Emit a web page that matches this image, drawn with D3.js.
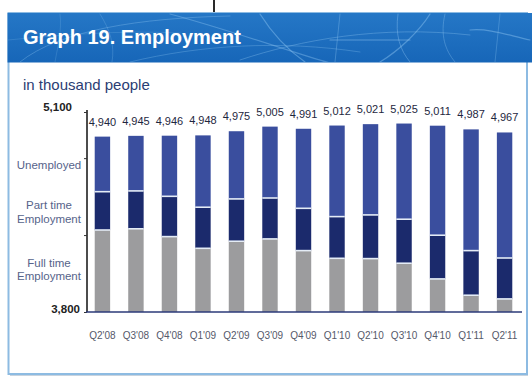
<!DOCTYPE html>
<html>
<head>
<meta charset="utf-8">
<script src="https://cdn.jsdelivr.net/npm/d3@7"></script>
<style>
  body { margin: 0; background: #fff; }
  svg { display: block; font-family: "Liberation Sans", Arial, sans-serif; }
</style>
</head>
<body>
<svg id="chart" width="532" height="377"></svg>
<script>
// Employment by quarter, thousand people
const quarters = ["Q2'08", "Q3'08", "Q4'08", "Q1'09", "Q2'09", "Q3'09", "Q4'09",
                  "Q1'10", "Q2'10", "Q3'10", "Q4'10", "Q1'11", "Q2'11"];
const fullTime   = [4333, 4341, 4290, 4214, 4260, 4275, 4199, 4149, 4147, 4117, 4015, 3909, 3885];
const partTime   = [249, 246, 262, 267, 275, 266, 275, 271, 284, 286, 284, 290, 266];
const unemployed = [358, 358, 394, 467, 440, 464, 517, 592, 590, 622, 712, 788, 816];
const seriesKeys = ["fullTime", "partTime", "unemployed"];
const seriesNames = [["Full time", "Employment"], ["Part time", "Employment"], ["Unemployed"]];
const axisTicks = [3800, 4300, 4800, 5100];
const labelledTicks = [3800, 5100];

const colors = { fullTime: "#9c9c9e", partTime: "#1b2a6c", unemployed: "#3a4e9e" };

const rows = quarters.map((q, i) => ({
  quarter: q, fullTime: fullTime[i], partTime: partTime[i], unemployed: unemployed[i]
}));

const svg = d3.select("#chart");

// frame line above the panel
svg.append("line").attr("x1", 214).attr("x2", 214).attr("y1", 0).attr("y2", 13)
  .attr("stroke", "#2a2a2a").attr("stroke-width", 2);

// panel
svg.append("rect").attr("x", 8.5).attr("y", 13).attr("width", 518.5).attr("height", 361)
  .attr("fill", "#fff").attr("stroke", "#8dbbe2").attr("stroke-width", 2);
svg.append("line").attr("x1", 10).attr("x2", 528).attr("y1", 375.5).attr("y2", 375.5)
  .attr("stroke", "#c8d3de").attr("stroke-width", 1);

// header band
const defs = svg.append("defs");
const grad = defs.append("linearGradient").attr("id", "hdr").attr("x1", 0).attr("y1", 0).attr("x2", 0).attr("y2", 1);
grad.append("stop").attr("offset", "0%").attr("stop-color", "#2577c6");
grad.append("stop").attr("offset", "100%").attr("stop-color", "#1766b8");
const hdr = svg.append("g");
hdr.append("rect").attr("x", 7.5).attr("y", 13).attr("width", 524.5).attr("height", 49.5).attr("fill", "url(#hdr)");

// decorative light strokes across the header
const clip = defs.append("clipPath").attr("id", "hdrclip");
clip.append("rect").attr("x", 7.5).attr("y", 13).attr("width", 524.5).attr("height", 49.5);
const deco = hdr.append("g").attr("clip-path", "url(#hdrclip)")
  .attr("fill", "none").attr("stroke", "#8fc6f2").attr("stroke-linecap", "round");
const decoPaths = [
  ["M 20 62 C 60 30, 140 18, 230 16", 0.35, 1],
  ["M 170 14 C 230 30, 300 55, 330 63", 0.4, 1.2],
  ["M 240 60 C 300 40, 380 25, 470 35", 0.35, 1],
  ["M 260 14 C 270 30, 285 48, 305 62", 0.45, 1.3],
  ["M 330 40 L 410 40", 0.5, 1.2],
  ["M 340 14 L 335 62", 0.35, 1],
  ["M 398 14 C 395 35, 400 50, 410 62", 0.4, 1],
  ["M 430 14 C 420 30, 400 50, 380 62", 0.45, 1.3],
  ["M 445 14 C 440 35, 445 50, 455 62", 0.35, 1],
  ["M 470 30 C 490 28, 510 36, 530 40", 0.45, 1.2],
  ["M 500 14 L 495 62", 0.3, 1],
  ["M 100 14 C 110 30, 115 45, 112 62", 0.25, 1],
  ["M 60 14 C 62 30, 58 45, 55 62", 0.2, 1],
  ["M 130 62 C 200 45, 280 40, 360 52", 0.3, 1],
  ["M 8 40 C 60 35, 120 30, 180 33", 0.2, 1]
];
decoPaths.forEach(([d, op, w]) => deco.append("path").attr("d", d).attr("opacity", op).attr("stroke-width", w));

hdr.append("text").attr("x", 23).attr("y", 43.5).attr("fill", "#fff")
  .attr("font-size", 20).attr("font-weight", "bold").text("Graph 19. Employment");

// unit note
svg.append("text").attr("x", 23).attr("y", 90).attr("fill", "#2b3d73")
  .attr("font-size", 15).text("in thousand people");

// scales
const x = d3.scaleBand().domain(quarters).range([86, 521]).paddingInner(0.54).paddingOuter(0.26);
const y = d3.scaleLinear().domain([3800, 5100]).range([312, 112]).clamp(true);

const stack = d3.stack().keys(seriesKeys);
const layers = stack(rows);

// bars
const barG = svg.append("g");
layers.forEach(layer => {
  barG.append("g").attr("fill", colors[layer.key])
    .selectAll("rect").data(layer).join("rect")
    .attr("x", d => x(d.data.quarter))
    .attr("width", x.bandwidth())
    .attr("y", d => y(d[1]))
    .attr("height", d => y(d[0]) - y(d[1]));
});

// light separators between stacked segments
layers.slice(0, 2).forEach(layer => {
  barG.append("g").selectAll("line").data(layer).join("line")
    .attr("x1", d => x(d.data.quarter))
    .attr("x2", d => x(d.data.quarter) + x.bandwidth())
    .attr("y1", d => y(d[1])).attr("y2", d => y(d[1]))
    .attr("stroke", "#e4ecf6").attr("stroke-width", 1.6);
});

// total labels above bars
const topLayer = layers[layers.length - 1];
const fmt = d3.format(",");
svg.append("g").selectAll("text").data(topLayer).join("text")
  .attr("x", d => x(d.data.quarter) + x.bandwidth() / 2)
  .attr("y", d => y(d[1]) - 11)
  .attr("text-anchor", "middle")
  .attr("font-size", 11).attr("fill", "#1e2740")
  .text(d => fmt(d[1]));

// y axis
const yAxis = svg.append("g").attr("transform", "translate(87,0)")
  .call(d3.axisLeft(y).tickValues(axisTicks).tickSize(3).tickFormat(""));
yAxis.select(".domain").attr("d", `M0,${y(5100) - 2}V${y(3800)}`).attr("stroke", "#111").attr("stroke-width", 1.5);
yAxis.selectAll(".tick line").attr("stroke", "#333");

svg.append("g").selectAll("text").data(labelledTicks).join("text")
  .attr("x", d => d === 5100 ? 72 : 80)
  .attr("y", d => d === 5100 ? y(d) - 1.5 : y(d) + 1)
  .attr("text-anchor", "end")
  .attr("font-size", 11.5).attr("font-weight", "bold").attr("fill", "#222")
  .text(d => fmt(d));

// series names placed along the axis
const nameY = { unemployed: [169], partTime: [209, 223], fullTime: [266.5, 280] };
const nameG = svg.append("g").attr("font-size", 11.5).attr("fill", "#56638a").attr("text-anchor", "middle");
seriesKeys.forEach((k, i) => {
  seriesNames[i].forEach((line, j) => {
    nameG.append("text").attr("x", 49).attr("y", nameY[k][j]).text(line);
  });
});

// x axis
const xAxis = svg.append("g").attr("transform", "translate(0,312)")
  .call(d3.axisBottom(x).tickSize(0).tickPadding(0));
xAxis.select(".domain").attr("d", "M86,0H522").attr("stroke", "#2b3a78").attr("stroke-width", 1.5);
xAxis.selectAll(".tick text").attr("y", 27).attr("dy", 0)
  .attr("font-size", 10).attr("fill", "#55596a")
  .attr("font-family", "\"Liberation Sans\", Arial, sans-serif");
</script>
</body>
</html>
